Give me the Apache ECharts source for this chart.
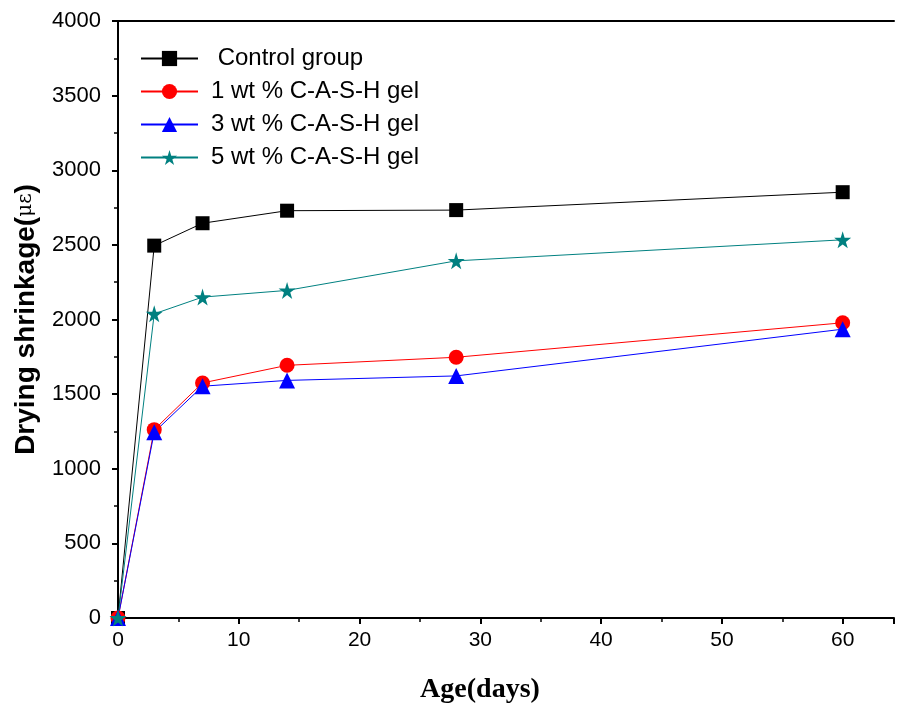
<!DOCTYPE html>
<html>
<head>
<meta charset="utf-8">
<script src="https://cdn.jsdelivr.net/npm/echarts@6/dist/echarts.min.js"></script>
<style>html,body{margin:0;padding:0;background:#fff;}#c{width:897px;height:709px;}</style>
</head>
<body>
<div id="c"></div>
<script>
const ages = [0, 3, 7, 14, 28, 60];
const controlGroup = [0, 2495, 2645, 2729, 2733, 2853];
const cash1 = [0, 1262, 1575, 1693, 1747, 1978];
const cash3 = [0, 1245, 1553, 1592, 1622, 1935];
const cash5 = [0, 2038, 2150, 2195, 2393, 2534];
const seriesNames = [' Control group', '1 wt % C-A-S-H gel', '3 wt % C-A-S-H gel', '5 wt % C-A-S-H gel'];
const yTicks = [0, 500, 1000, 1500, 2000, 2500, 3000, 3500, 4000];
const xTicks = [0, 10, 20, 30, 40, 50, 60];

const pair = (vals) => ages.map((a, i) => [a, vals[i]]);
const chart = echarts.init(document.getElementById('c'), null, {renderer: 'canvas'});
const mk = (name, vals, color, symbol, size) => ({
  name: name, type: 'line', data: pair(vals),
  symbol: symbol, symbolSize: size,
  lineStyle: {color: color, width: 1},
  itemStyle: {color: color},
  emphasis: {disabled: true},
  animation: false
});
chart.setOption({
  backgroundColor: '#fff',
  animation: false,
  grid: {left: 118, top: 21, right: 0, bottom: 90, containLabel: false},
  legend: {
    left: 140, top: 45, orient: 'vertical', padding: 0, itemWidth: 57, itemHeight: 19, itemGap: 6,
    textStyle: {fontFamily: 'Liberation Sans, Arial', fontSize: 24, lineHeight: 27, color: '#000', padding: [0,0,0,8]},
    data: seriesNames
  },
  xAxis: [{
    type: 'value', min: 0, max: 64.25, interval: 10,
    name: 'Age(days)', nameLocation: 'middle', nameGap: 58,
    nameTextStyle: {fontFamily: 'Liberation Serif, Times New Roman', fontWeight: 'bold', fontSize: 28, color: '#000', padding: [0, 52, 0, 0]},
    axisLine: {show: true, onZero: false, lineStyle: {color: '#000', width: 2}},
    axisTick: {show: true, length: 6, inside: false, lineStyle: {color: '#000', width: 2}},
    minorTick: {show: true, splitNumber: 2, length: 4, lineStyle: {color: '#000', width: 1.5}},
    axisLabel: {fontFamily: 'Liberation Sans, Arial', fontSize: 21, color: '#000', margin: 12,
      formatter: v => xTicks.includes(v) ? String(v) : ''},
    splitLine: {show: false}
  }, {
    type: 'value', position: 'top', min: 0, max: 64.25,
    axisLine: {show: true, onZero: false, lineStyle: {color: '#000', width: 2}},
    axisTick: {show: false}, axisLabel: {show: false}, splitLine: {show: false}
  }],
  yAxis: {
    type: 'value', min: 0, max: 4000, interval: 500,
    name: 'Drying shrinkage({m|με})', nameLocation: 'middle', nameGap: 78, nameRotate: 90,
    nameTextStyle: {fontFamily: 'Liberation Sans, Arial', fontWeight: 'bold', fontSize: 28, color: '#000',
      rich: {m: {fontFamily: 'DejaVu Serif', fontWeight: 'normal', fontSize: 20, color: '#000'}}},
    axisLine: {show: true, onZero: false, lineStyle: {color: '#000', width: 2}},
    axisTick: {show: true, length: 6, inside: false, lineStyle: {color: '#000', width: 2}},
    minorTick: {show: true, splitNumber: 2, length: 4, lineStyle: {color: '#000', width: 1.5}},
    axisLabel: {fontFamily: 'Liberation Sans, Arial', fontSize: 22, color: '#000', margin: 17,
      formatter: v => yTicks.includes(v) ? String(v) : ''},
    splitLine: {show: false}
  },
  series: [
    mk(seriesNames[0], controlGroup, '#000000', 'rect', 14),
    mk(seriesNames[1], cash1, '#ff0000', 'circle', 15),
    mk(seriesNames[2], cash3, '#0000ff', 'triangle', 16),
    mk(seriesNames[3], cash5, '#008080', 'path://M50,0 L61,35 L98,35 L68,57 L79,91 L50,70 L21,91 L32,57 L2,35 L39,35 Z', 17)
  ]
});
</script>
</body>
</html>
